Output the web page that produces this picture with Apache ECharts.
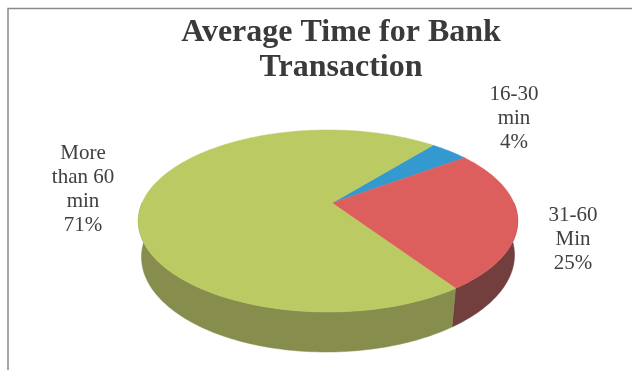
<!DOCTYPE html>
<html>
<head>
<meta charset="utf-8">
<style>html,body{margin:0;padding:0;background:#fff}#chart{width:632px;height:370px}</style>
<script src="https://cdn.jsdelivr.net/npm/echarts@6/dist/echarts.min.js"></script>
</head>
<body>
<div id="chart"></div>
<script>
// Average time for a bank transaction, in percent of respondents
const categories = ['16-30\nmin', '31-60\nMin', 'More\nthan 60\nmin'];
const shares = [4, 25, 71];
const topColors = ['#3399cf', '#dc5f5d', '#bbca62'];
const sideColors = ['#256f96', '#733e3e', '#878e4d'];
const labelCentres = [[514, 118], [573, 239], [83, 189]];

// Tilted disc: outlines of the upper and lower faces, and the point where slices meet
const upper = { cx: 328, cy: 221, rx: 189.7, ry: 91, skew: 0 };
const lower = { cx: 328, cy: 256, rx: 186.5, ry: 96, skew: -2 };
const hub = [332, 203];
const firstAngle = -49.5 * Math.PI / 180;
const total = shares.reduce((a, b) => a + b, 0);

// Perspective pushes the hub up from the ellipse centre, so equal angles are
// carried to the rim by the circle map that follows that vertical shift.
const hy = (hub[1] - upper.cy) / upper.ry;
const py = hy / (1 + Math.sqrt(1 - hy * hy));
function rimPoint(angle, face) {
  const zx = Math.cos(angle), zy = Math.sin(angle);
  const ny = zy + py;
  const dx = 1 + py * zy, dy = -py * zx;
  const d = dx * dx + dy * dy;
  const ux = (zx * dx + ny * dy) / d, uy = (ny * dx - zx * dy) / d;
  return [face.cx + face.rx * ux + face.skew * uy, face.cy + face.ry * uy];
}
function arcPoints(from, to, face) {
  const n = Math.max(2, Math.ceil((to - from) / 0.02));
  const pts = [];
  for (let i = 0; i <= n; i++) pts.push(rimPoint(from + (to - from) * i / n, face));
  return pts;
}
function sliceRange(index, api) {
  let before = 0;
  for (let i = 0; i < index; i++) before += shares[i];
  const from = firstAngle + before / total * 2 * Math.PI;
  return [from, from + api.value(0) / total * 2 * Math.PI];
}

const chart = echarts.init(document.getElementById('chart'), null, { renderer: 'canvas' });
chart.setOption({
  animation: false,
  backgroundColor: '#ffffff',
  title: {
    text: 'Average Time for Bank\nTransaction',
    left: 336, top: 10, textAlign: 'center',
    textStyle: {
      fontFamily: 'Liberation Serif', fontWeight: 'bold', fontSize: 32,
      lineHeight: 35, color: '#3a3a3a'
    }
  },
  graphic: [{
    type: 'polyline', silent: true,
    shape: { points: [[8, 370], [8, 8.5], [632, 8.5]] },
    style: { stroke: '#8a8a8a', lineWidth: 1.5, fill: null }
  }],
  series: [{
    // outer wall of the disc: only the half facing the viewer is painted
    type: 'custom', coordinateSystem: 'none', z: 2, silent: true,
    data: shares.map(v => [v]),
    renderItem(params, api) {
      const [start, end] = sliceRange(params.dataIndex, api);
      const from = Math.max(start, 0), to = Math.min(end, Math.PI);
      if (from >= to) return null;
      const pts = arcPoints(from, to, upper).concat(arcPoints(from, to, lower).reverse());
      const c = sideColors[params.dataIndex];
      return { type: 'polygon', shape: { points: pts }, style: { fill: c, stroke: c, lineWidth: 0.5 } };
    }
  }, {
    // top faces and their labels
    type: 'custom', coordinateSystem: 'none', z: 3, silent: true,
    data: shares.map(v => [v]),
    renderItem(params, api) {
      const i = params.dataIndex;
      const [from, to] = sliceRange(i, api);
      const pts = [hub].concat(arcPoints(from, to, upper));
      return {
        type: 'group',
        children: [{
          type: 'polygon', shape: { points: pts },
          style: { fill: topColors[i], stroke: topColors[i], lineWidth: 0.5 }
        }, {
          type: 'text', z2: 5,
          style: {
            text: categories[i] + '\n' + api.value(0) + '%',
            x: labelCentres[i][0], y: labelCentres[i][1],
            align: 'center', verticalAlign: 'middle',
            fontFamily: 'Liberation Serif', fontSize: 21, lineHeight: 24,
            fill: '#404040'
          }
        }]
      };
    }
  }]
});
</script>
</body>
</html>
